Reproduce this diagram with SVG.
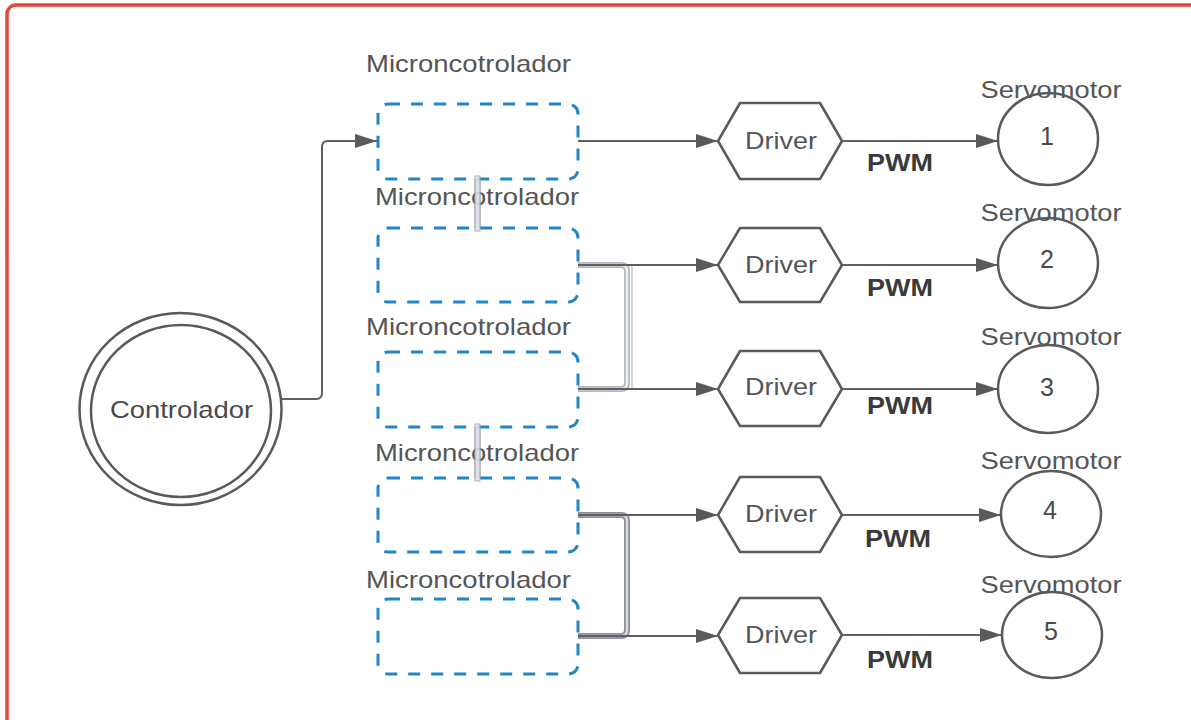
<svg xmlns="http://www.w3.org/2000/svg" width="1191" height="720" viewBox="0 0 1191 720">
  <defs>
    <marker id="arrow" markerUnits="userSpaceOnUse" markerWidth="22" markerHeight="14" refX="22" refY="7" orient="auto">
      <path d="M0,0 L22,7 L0,14 z" fill="#5a5a5a"/>
    </marker>
    <style>
      .frame { fill: none; stroke: #e2473a; stroke-width: 3.5; }
      .mcu { fill: #ffffff; stroke: #1f86c8; stroke-width: 3; stroke-dasharray: 12 11; }
      .shape { fill: #ffffff; stroke: #5a5a5a; stroke-width: 2.5; stroke-linejoin: round; }
      .link { fill: none; stroke: #606060; stroke-width: 2; }
      .bus-outer { fill: none; stroke: #b3b9c2; stroke-width: 6; stroke-linejoin: round; }
      .bus-inner { fill: none; stroke: #eceef1; stroke-width: 2.5; stroke-linejoin: round; }
      .bus-dark { fill: none; stroke: #8b9098; stroke-width: 6; stroke-linejoin: round; }
      .bus-dark-inner { fill: none; stroke: #d6d9de; stroke-width: 2.5; stroke-linejoin: round; }
      .lbl { font-family: "Liberation Sans", Arial, sans-serif; font-size: 24px; fill: #555555; text-anchor: middle; }
      .num { font-family: "Liberation Sans", Arial, sans-serif; font-size: 25px; fill: #4a4a4a; text-anchor: middle; }
      .pwm { font-family: "Liberation Sans", Arial, sans-serif; font-size: 24px; font-weight: bold; fill: #3a3a3a; text-anchor: middle; }
    </style>
  </defs>

  <rect width="1191" height="720" fill="#ffffff"/>
  <rect class="frame" x="7" y="5" width="1210" height="740" rx="9"/>

  <!-- links between microcontrollers (drawn first, boxes sit on top) -->
  <g id="buses">
    <rect x="475" y="179" width="5" height="49" fill="#dde1e6" stroke="#a7adb6" stroke-width="1.2"/>
    <rect x="475" y="427" width="5" height="51" fill="#dde1e6" stroke="#a7adb6" stroke-width="1.2"/>
    <path class="bus-outer" d="M578,265 H621 Q627,265 627,271 V383 Q627,389 621,389 H578"/>
    <path class="bus-inner" d="M578,265 H621 Q627,265 627,271 V383 Q627,389 621,389 H578"/>
    <line x1="632" y1="266" x2="632" y2="388" stroke="#c3c8cf" stroke-width="1.5"/>
    <path class="bus-dark" d="M578,515 H621 Q627,515 627,521 V630 Q627,636 621,636 H578"/>
    <path class="bus-dark-inner" d="M581,515 H621 Q627,515 627,521 V630 Q627,636 621,636 H581"/>
  </g>

  <!-- connectors -->
  <g id="connectors">
    <path class="link" d="M268,399 H316 Q322,399 322,393 V147 Q322,141 328,141 H377" marker-end="url(#arrow)"/>
    <path class="link" d="M578,141 H718" marker-end="url(#arrow)"/>
    <path class="link" d="M578,265 H718" marker-end="url(#arrow)"/>
    <path class="link" d="M578,389 H718" marker-end="url(#arrow)"/>
    <path class="link" d="M578,515 H718" marker-end="url(#arrow)"/>
    <path class="link" d="M578,636 H718" marker-end="url(#arrow)"/>
    <path class="link" d="M842,141 H998" marker-end="url(#arrow)"/>
    <path class="link" d="M842,265 H998" marker-end="url(#arrow)"/>
    <path class="link" d="M842,389 H998" marker-end="url(#arrow)"/>
    <path class="link" d="M842,515 H1001" marker-end="url(#arrow)"/>
    <path class="link" d="M842,635 H1002" marker-end="url(#arrow)"/>
  </g>

  <!-- controller -->
  <g id="controlador">
    <ellipse class="shape" cx="180.5" cy="409" rx="101" ry="96"/>
    <ellipse class="shape" cx="181" cy="411" rx="90" ry="86"/>
    <text class="lbl" x="181.5" y="418" font-size="26" textLength="143" lengthAdjust="spacingAndGlyphs" style="fill:#4a4a4a">Controlador</text>
  </g>

  <!-- microcontrollers -->
  <g id="mcu1">
    <rect class="mcu" x="378" y="104" width="200" height="75" rx="10"/>
    <text class="lbl" x="468.5" y="72" textLength="205" lengthAdjust="spacingAndGlyphs">Microncotrolador</text>
  </g>
  <g id="mcu2">
    <rect class="mcu" x="378" y="228" width="200" height="74" rx="10"/>
    <text class="lbl" x="477" y="205" textLength="204" lengthAdjust="spacingAndGlyphs">Microncotrolador</text>
  </g>
  <g id="mcu3">
    <rect class="mcu" x="378" y="352" width="200" height="75" rx="10"/>
    <text class="lbl" x="468.5" y="335" textLength="205" lengthAdjust="spacingAndGlyphs">Microncotrolador</text>
  </g>
  <g id="mcu4">
    <rect class="mcu" x="378" y="478" width="200" height="74" rx="10"/>
    <text class="lbl" x="477" y="461" textLength="204" lengthAdjust="spacingAndGlyphs">Microncotrolador</text>
  </g>
  <g id="mcu5">
    <rect class="mcu" x="378" y="599" width="200" height="75" rx="10"/>
    <text class="lbl" x="468.5" y="588" textLength="205" lengthAdjust="spacingAndGlyphs">Microncotrolador</text>
  </g>

  <!-- re-draw bus overlap on top of box borders -->
  <g id="bus-overlay">
    <rect x="475" y="176" width="5" height="55" fill="#dde1e6" stroke="#a7adb6" stroke-width="1.2" opacity="0.85"/>
    <rect x="475" y="424" width="5" height="57" fill="#dde1e6" stroke="#a7adb6" stroke-width="1.2" opacity="0.85"/>
  </g>

  <!-- drivers -->
  <g id="driver1">
    <polygon class="shape" points="718,141 740,103 820,103 842,141 820,179 740,179"/>
    <text class="lbl" x="781" y="149" textLength="72" lengthAdjust="spacingAndGlyphs">Driver</text>
  </g>
  <g id="driver2">
    <polygon class="shape" points="718,265 740,228 820,228 842,265 820,302 740,302"/>
    <text class="lbl" x="781" y="273" textLength="72" lengthAdjust="spacingAndGlyphs">Driver</text>
  </g>
  <g id="driver3">
    <polygon class="shape" points="718,389 740,351 820,351 842,389 820,426 740,426"/>
    <text class="lbl" x="781" y="395" textLength="72" lengthAdjust="spacingAndGlyphs">Driver</text>
  </g>
  <g id="driver4">
    <polygon class="shape" points="718,515 740,477 820,477 842,515 820,552 740,552"/>
    <text class="lbl" x="781" y="522" textLength="72" lengthAdjust="spacingAndGlyphs">Driver</text>
  </g>
  <g id="driver5">
    <polygon class="shape" points="718,635 740,598 820,598 842,635 820,673 740,673"/>
    <text class="lbl" x="781" y="643" textLength="72" lengthAdjust="spacingAndGlyphs">Driver</text>
  </g>

  <!-- PWM labels -->
  <g id="pwm-labels">
    <text class="pwm" x="900" y="171" textLength="66" lengthAdjust="spacingAndGlyphs">PWM</text>
    <text class="pwm" x="900" y="296" textLength="66" lengthAdjust="spacingAndGlyphs">PWM</text>
    <text class="pwm" x="900" y="414" textLength="66" lengthAdjust="spacingAndGlyphs">PWM</text>
    <text class="pwm" x="898" y="547" textLength="66" lengthAdjust="spacingAndGlyphs">PWM</text>
    <text class="pwm" x="900" y="668" textLength="66" lengthAdjust="spacingAndGlyphs">PWM</text>
  </g>

  <!-- servomotors -->
  <g id="servo1">
    <text class="lbl" x="1051" y="98" textLength="141" lengthAdjust="spacingAndGlyphs">Servomotor</text>
    <ellipse class="shape" cx="1048" cy="139" rx="50" ry="46" fill="none" style="fill:none"/>
    <text class="num" x="1047" y="145">1</text>
  </g>
  <g id="servo2">
    <text class="lbl" x="1051" y="221" textLength="141" lengthAdjust="spacingAndGlyphs">Servomotor</text>
    <ellipse class="shape" cx="1048" cy="263" rx="50" ry="45" style="fill:none"/>
    <text class="num" x="1047" y="268">2</text>
  </g>
  <g id="servo3">
    <text class="lbl" x="1051" y="345" textLength="141" lengthAdjust="spacingAndGlyphs">Servomotor</text>
    <ellipse class="shape" cx="1048" cy="389" rx="50" ry="44" style="fill:none"/>
    <text class="num" x="1047" y="396">3</text>
  </g>
  <g id="servo4">
    <text class="lbl" x="1051" y="469" textLength="141" lengthAdjust="spacingAndGlyphs">Servomotor</text>
    <ellipse class="shape" cx="1051" cy="514" rx="50" ry="43" style="fill:none"/>
    <text class="num" x="1050" y="519">4</text>
  </g>
  <g id="servo5">
    <text class="lbl" x="1051" y="593" textLength="141" lengthAdjust="spacingAndGlyphs">Servomotor</text>
    <ellipse class="shape" cx="1052" cy="635" rx="50" ry="43" style="fill:none"/>
    <text class="num" x="1051" y="640">5</text>
  </g>
</svg>
